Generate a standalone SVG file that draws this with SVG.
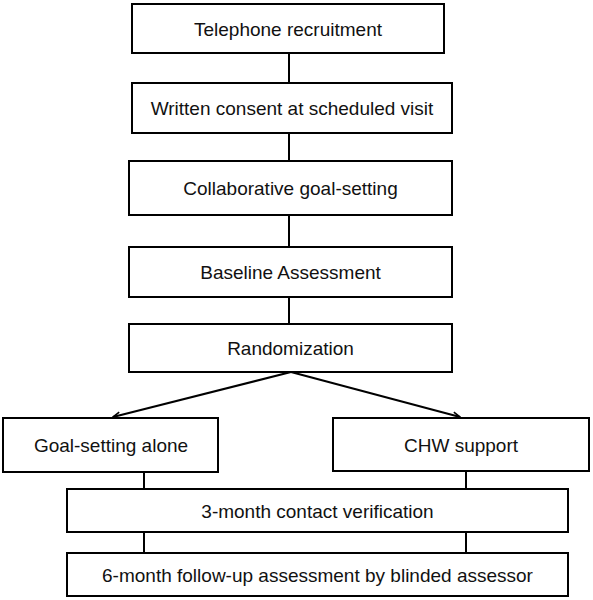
<svg xmlns="http://www.w3.org/2000/svg" width="593" height="600" viewBox="0 0 593 600">
<style>
.b{fill:#fff;stroke:#000;stroke-width:2}
.t{font-family:"Liberation Sans",Arial,sans-serif;font-size:19px;fill:#111;text-anchor:middle}
.c{stroke:#000;stroke-width:2;fill:none}
</style>
<defs>
<marker id="ah" viewBox="0 0 10 10" refX="9" refY="5" markerWidth="9" markerHeight="9" orient="auto" markerUnits="userSpaceOnUse">
<path d="M1,1.5 L9,5 L1,8.5" fill="none" stroke="#000" stroke-width="1.8"/>
</marker>
</defs>
<rect width="593" height="600" fill="#fff"/>
<g id="connectors">
<line class="c" x1="289" y1="53" x2="289" y2="83"/>
<line class="c" x1="289" y1="133" x2="289" y2="161"/>
<line class="c" x1="289" y1="215" x2="289" y2="247"/>
<line class="c" x1="289" y1="297" x2="289" y2="324"/>
<line class="c" x1="291" y1="372" x2="113" y2="417" marker-end="url(#ah)"/>
<line class="c" x1="291" y1="372" x2="460" y2="417" marker-end="url(#ah)"/>
<line class="c" x1="144" y1="472" x2="144" y2="489"/>
<line class="c" x1="466" y1="471" x2="466" y2="489"/>
<line class="c" x1="144" y1="532" x2="144" y2="553"/>
<line class="c" x1="466" y1="532" x2="466" y2="553"/>
</g>
<g id="n1"><rect class="b" x="132" y="4" width="312" height="49"/><text class="t" x="288" y="36">Telephone recruitment</text></g>
<g id="n2"><rect class="b" x="132" y="83" width="320" height="50"/><text class="t" x="292" y="115">Written consent at scheduled visit</text></g>
<g id="n3"><rect class="b" x="129" y="161" width="323" height="54"/><text class="t" x="290.5" y="195">Collaborative goal-setting</text></g>
<g id="n4"><rect class="b" x="129" y="247" width="323" height="50"/><text class="t" x="290.5" y="279">Baseline Assessment</text></g>
<g id="n5"><rect class="b" x="129" y="324" width="323" height="48"/><text class="t" x="290.5" y="355">Randomization</text></g>
<g id="n6"><rect class="b" x="3" y="418" width="215" height="54"/><text class="t" x="111" y="452">Goal-setting alone</text></g>
<g id="n7"><rect class="b" x="333" y="418" width="256" height="53"/><text class="t" x="461" y="452">CHW support</text></g>
<g id="n8"><rect class="b" x="67" y="489" width="501" height="43"/><text class="t" x="317.5" y="518">3-month contact verification</text></g>
<g id="n9"><rect class="b" x="67" y="553" width="501" height="43"/><text class="t" x="317.5" y="582">6-month follow-up assessment by blinded assessor</text></g>
</svg>
